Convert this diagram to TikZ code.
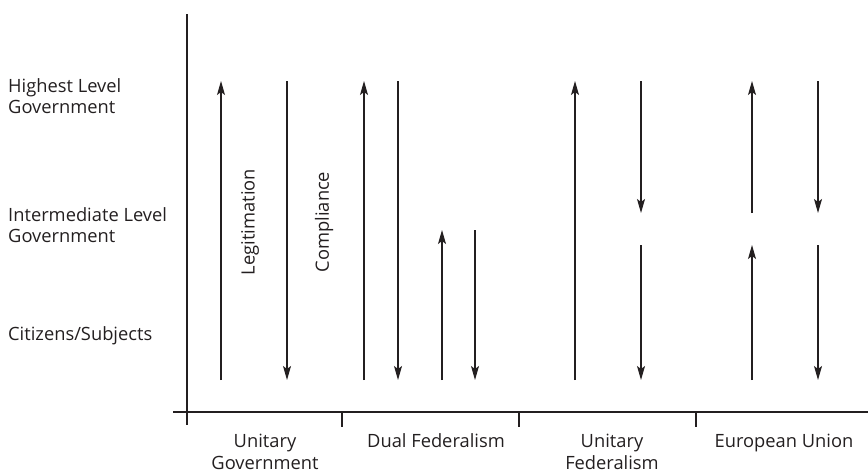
\documentclass[tikz,border=0pt]{standalone}
\usepackage{fontspec}
\setmainfont{Open Sans}
\usetikzlibrary{arrows.meta}
\definecolor{ink}{HTML}{231F20}
\tikzset{
  axisline/.style={draw=ink, line width=1.8pt},
  flow/.style={draw=ink, line width=1.2pt, -{Stealth[length=14pt,width=8pt,inset=3pt]}},
  lbl/.style={text=ink, font=\fontsize{18.3}{21.5}\selectfont, inner sep=0pt},
}
\begin{document}
\begin{tikzpicture}[x=1pt,y=-1pt]
\useasboundingbox (0,0) rectangle (868,472);
% axes
\coordinate (vtop) at (187,14);
\coordinate (vbot) at (187,425);
\coordinate (hl) at (173,412);
\coordinate (hr) at (868,412);
\draw[axisline] (vtop) -- (vbot);
\draw[axisline] (hl) -- (hr);
\foreach \x/\n in {342/t1,519/t2,696/t3}{
  \coordinate (\n a) at (\x,412);
  \coordinate (\n b) at (\x,427);
  \draw[axisline] (\n a) -- (\n b);
}
% left labels
\node[lbl, anchor=west, align=left] (hg) at (8,96) {Highest Level\\Government};
\node[lbl, anchor=west, align=left] (ig) at (8,225) {Intermediate Level\\Government};
\node[lbl, anchor=west, align=left] (cs) at (8,336) {Citizens/Subjects};
% bottom labels
\node[lbl, anchor=base, align=center] (ug) at (265,469) {Unitary\\Government};
\node[lbl, anchor=base] (df) at (436,447) {Dual Federalism};
\node[lbl, anchor=base, align=center] (uf) at (612,469) {Unitary\\Federalism};
\node[lbl, anchor=base] (eu) at (784,447) {European Union};
% Unitary government
\coordinate (a1b) at (221,380); \coordinate (a1t) at (221,81);
\coordinate (a2t) at (287,81); \coordinate (a2b) at (287,380);
\draw[flow] (a1b) -- (a1t);
\draw[flow] (a2t) -- (a2b);
\node[lbl, rotate=90] (leg) at (250,222) {Legitimation};
\node[lbl, rotate=90] (com) at (324,222) {Compliance};
% Dual federalism
\coordinate (b1b) at (364,380); \coordinate (b1t) at (364,81);
\coordinate (b2t) at (398,81); \coordinate (b2b) at (398,380);
\coordinate (b3b) at (442,380); \coordinate (b3t) at (442,230);
\coordinate (b4t) at (475,230); \coordinate (b4b) at (475,380);
\draw[flow] (b1b) -- (b1t);
\draw[flow] (b2t) -- (b2b);
\draw[flow] (b3b) -- (b3t);
\draw[flow] (b4t) -- (b4b);
% Unitary federalism
\coordinate (c1b) at (575,380); \coordinate (c1t) at (575,81);
\coordinate (c2t) at (641,81); \coordinate (c2m) at (641,213);
\coordinate (c3t) at (641,245); \coordinate (c3b) at (641,380);
\draw[flow] (c1b) -- (c1t);
\draw[flow] (c2t) -- (c2m);
\draw[flow] (c3t) -- (c3b);
% European Union
\coordinate (d1m) at (752,213); \coordinate (d1t) at (752,81);
\coordinate (d2t) at (818,81); \coordinate (d2m) at (818,213);
\coordinate (d3b) at (752,380); \coordinate (d3m) at (752,245);
\coordinate (d4m) at (818,245); \coordinate (d4b) at (818,380);
\draw[flow] (d1m) -- (d1t);
\draw[flow] (d2t) -- (d2m);
\draw[flow] (d3b) -- (d3m);
\draw[flow] (d4m) -- (d4b);
\end{tikzpicture}
\end{document}
